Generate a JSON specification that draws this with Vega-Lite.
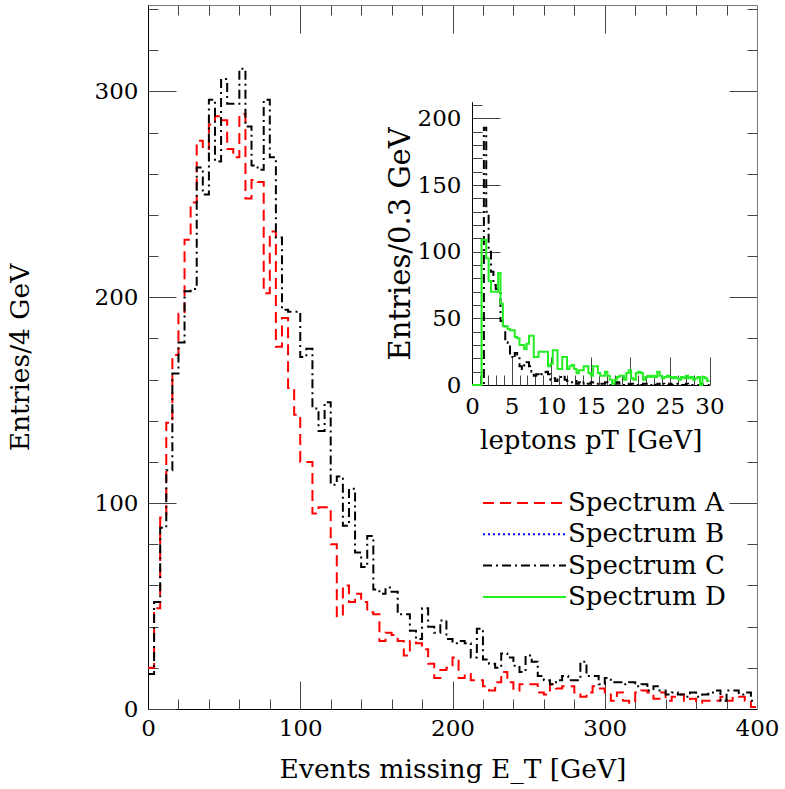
{
 "$schema": "https://vega.github.io/schema/vega-lite/v6.json",
 "width": 609, "height": 704,
 "autosize": {"type": "none"},
 "padding": {"left": 148, "top": 5, "right": 28, "bottom": 80},
 "background": "white",
 "datasets": {
  "main": [
   {"et":0,"Spectrum A":20,"Spectrum C":17},{"et":4,"Spectrum A":49,"Spectrum C":52},{"et":8,"Spectrum A":93,"Spectrum C":88},{"et":12,"Spectrum A":139,"Spectrum C":116},{"et":16,"Spectrum A":172,"Spectrum C":163},
   {"et":20,"Spectrum A":192,"Spectrum C":178},{"et":24,"Spectrum A":228,"Spectrum C":203},{"et":28,"Spectrum A":246,"Spectrum C":204},{"et":32,"Spectrum A":276,"Spectrum C":263},{"et":36,"Spectrum A":272,"Spectrum C":250},
   {"et":40,"Spectrum A":284,"Spectrum C":296},{"et":44,"Spectrum A":288,"Spectrum C":266},{"et":48,"Spectrum A":286,"Spectrum C":306},{"et":52,"Spectrum A":272,"Spectrum C":294},{"et":56,"Spectrum A":268,"Spectrum C":294},
   {"et":60,"Spectrum A":289,"Spectrum C":311},{"et":64,"Spectrum A":248,"Spectrum C":283},{"et":68,"Spectrum A":257,"Spectrum C":264},{"et":72,"Spectrum A":256,"Spectrum C":262},{"et":76,"Spectrum A":202,"Spectrum C":296},
   {"et":80,"Spectrum A":232,"Spectrum C":268},{"et":84,"Spectrum A":176,"Spectrum C":229},{"et":88,"Spectrum A":190,"Spectrum C":194},{"et":92,"Spectrum A":156,"Spectrum C":193},{"et":96,"Spectrum A":143,"Spectrum C":193},
   {"et":100,"Spectrum A":120,"Spectrum C":171},{"et":104,"Spectrum A":120,"Spectrum C":175},{"et":108,"Spectrum A":95,"Spectrum C":146},{"et":112,"Spectrum A":98,"Spectrum C":135},{"et":116,"Spectrum A":98,"Spectrum C":149},
   {"et":120,"Spectrum A":80,"Spectrum C":109},{"et":124,"Spectrum A":45,"Spectrum C":113},{"et":128,"Spectrum A":60,"Spectrum C":89},{"et":132,"Spectrum A":52,"Spectrum C":107},{"et":136,"Spectrum A":56,"Spectrum C":76},
   {"et":140,"Spectrum A":52,"Spectrum C":69},{"et":144,"Spectrum A":47,"Spectrum C":84},{"et":148,"Spectrum A":46,"Spectrum C":58},{"et":152,"Spectrum A":33,"Spectrum C":56},{"et":156,"Spectrum A":37,"Spectrum C":59},
   {"et":160,"Spectrum A":36,"Spectrum C":57},{"et":164,"Spectrum A":33,"Spectrum C":46},{"et":168,"Spectrum A":26,"Spectrum C":46},{"et":172,"Spectrum A":33,"Spectrum C":38},{"et":176,"Spectrum A":32,"Spectrum C":34},
   {"et":180,"Spectrum A":29,"Spectrum C":49},{"et":184,"Spectrum A":22,"Spectrum C":40},{"et":188,"Spectrum A":15,"Spectrum C":37},{"et":192,"Spectrum A":19,"Spectrum C":43},{"et":196,"Spectrum A":20,"Spectrum C":34},
   {"et":200,"Spectrum A":25,"Spectrum C":32},{"et":204,"Spectrum A":15,"Spectrum C":33},{"et":208,"Spectrum A":17,"Spectrum C":32},{"et":212,"Spectrum A":14,"Spectrum C":25},{"et":216,"Spectrum A":14,"Spectrum C":39},
   {"et":220,"Spectrum A":11,"Spectrum C":24},{"et":224,"Spectrum A":9,"Spectrum C":22},{"et":228,"Spectrum A":13,"Spectrum C":20},{"et":232,"Spectrum A":18,"Spectrum C":27},{"et":236,"Spectrum A":13,"Spectrum C":25},
   {"et":240,"Spectrum A":9,"Spectrum C":21},{"et":244,"Spectrum A":12,"Spectrum C":18},{"et":248,"Spectrum A":12,"Spectrum C":26},{"et":252,"Spectrum A":12,"Spectrum C":23},{"et":256,"Spectrum A":8,"Spectrum C":16},
   {"et":260,"Spectrum A":7,"Spectrum C":14},{"et":264,"Spectrum A":12,"Spectrum C":12},{"et":268,"Spectrum A":10,"Spectrum C":14},{"et":272,"Spectrum A":11,"Spectrum C":16},{"et":276,"Spectrum A":11,"Spectrum C":14},
   {"et":280,"Spectrum A":8,"Spectrum C":14},{"et":284,"Spectrum A":6,"Spectrum C":23},{"et":288,"Spectrum A":8,"Spectrum C":16},{"et":292,"Spectrum A":11,"Spectrum C":16},{"et":296,"Spectrum A":10,"Spectrum C":12},
   {"et":300,"Spectrum A":8,"Spectrum C":15},{"et":304,"Spectrum A":4,"Spectrum C":13},{"et":308,"Spectrum A":8,"Spectrum C":13},{"et":312,"Spectrum A":4,"Spectrum C":12},{"et":316,"Spectrum A":3,"Spectrum C":13},
   {"et":320,"Spectrum A":8,"Spectrum C":11},{"et":324,"Spectrum A":9,"Spectrum C":12},{"et":328,"Spectrum A":8,"Spectrum C":9},{"et":332,"Spectrum A":5,"Spectrum C":11},{"et":336,"Spectrum A":8,"Spectrum C":9},
   {"et":340,"Spectrum A":4,"Spectrum C":7},{"et":344,"Spectrum A":6,"Spectrum C":8},{"et":348,"Spectrum A":7,"Spectrum C":7},{"et":352,"Spectrum A":4,"Spectrum C":6},{"et":356,"Spectrum A":5,"Spectrum C":8},
   {"et":360,"Spectrum A":3,"Spectrum C":6},{"et":364,"Spectrum A":4,"Spectrum C":7},{"et":368,"Spectrum A":4,"Spectrum C":8},{"et":372,"Spectrum A":4,"Spectrum C":9},{"et":376,"Spectrum A":6,"Spectrum C":4},
   {"et":380,"Spectrum A":4,"Spectrum C":9},{"et":384,"Spectrum A":6,"Spectrum C":9},{"et":388,"Spectrum A":6,"Spectrum C":7},{"et":392,"Spectrum A":4,"Spectrum C":8},{"et":396,"Spectrum A":1,"Spectrum C":4},
   {"et":400,"Spectrum A":1,"Spectrum C":4}
  ],
  "inset": [
   {"pt":0,"Spectrum C":0,"Spectrum D":0},{"pt":0.3,"Spectrum C":0,"Spectrum D":0},{"pt":0.6,"Spectrum C":0,"Spectrum D":0},{"pt":0.9,"Spectrum C":0,"Spectrum D":0},{"pt":1.2,"Spectrum C":0,"Spectrum D":109},
   {"pt":1.5,"Spectrum C":193,"Spectrum D":109},{"pt":1.8,"Spectrum C":130,"Spectrum D":95},{"pt":2.1,"Spectrum C":100,"Spectrum D":78},{"pt":2.4,"Spectrum C":85,"Spectrum D":70},{"pt":2.7,"Spectrum C":75,"Spectrum D":70},
   {"pt":3,"Spectrum C":72,"Spectrum D":70},{"pt":3.3,"Spectrum C":71,"Spectrum D":84},{"pt":3.6,"Spectrum C":48,"Spectrum D":61},{"pt":3.9,"Spectrum C":45,"Spectrum D":44},{"pt":4.2,"Spectrum C":32,"Spectrum D":44},
   {"pt":4.5,"Spectrum C":30,"Spectrum D":42},{"pt":4.8,"Spectrum C":22,"Spectrum D":41},{"pt":5.1,"Spectrum C":20,"Spectrum D":41},{"pt":5.4,"Spectrum C":24,"Spectrum D":36},{"pt":5.7,"Spectrum C":20,"Spectrum D":35},
   {"pt":6,"Spectrum C":14,"Spectrum D":30},{"pt":6.3,"Spectrum C":12,"Spectrum D":30},{"pt":6.6,"Spectrum C":15,"Spectrum D":27},{"pt":6.9,"Spectrum C":17,"Spectrum D":31},{"pt":7.2,"Spectrum C":14,"Spectrum D":37},
   {"pt":7.5,"Spectrum C":10,"Spectrum D":37},{"pt":7.8,"Spectrum C":7,"Spectrum D":21},{"pt":8.1,"Spectrum C":8,"Spectrum D":21},{"pt":8.4,"Spectrum C":7,"Spectrum D":25},{"pt":8.7,"Spectrum C":8,"Spectrum D":25},
   {"pt":9,"Spectrum C":8,"Spectrum D":25},{"pt":9.3,"Spectrum C":10,"Spectrum D":25},{"pt":9.6,"Spectrum C":8,"Spectrum D":14},{"pt":9.9,"Spectrum C":4,"Spectrum D":16},{"pt":10.2,"Spectrum C":5,"Spectrum D":26},
   {"pt":10.5,"Spectrum C":3,"Spectrum D":26},{"pt":10.8,"Spectrum C":5,"Spectrum D":12},{"pt":11.1,"Spectrum C":6,"Spectrum D":12},{"pt":11.4,"Spectrum C":7,"Spectrum D":21},{"pt":11.7,"Spectrum C":4,"Spectrum D":21},
   {"pt":12,"Spectrum C":3,"Spectrum D":12},{"pt":12.3,"Spectrum C":2,"Spectrum D":14},{"pt":12.6,"Spectrum C":2,"Spectrum D":15},{"pt":12.9,"Spectrum C":3,"Spectrum D":12},{"pt":13.2,"Spectrum C":1,"Spectrum D":9},
   {"pt":13.5,"Spectrum C":2,"Spectrum D":11},{"pt":13.8,"Spectrum C":1,"Spectrum D":11},{"pt":14.1,"Spectrum C":2,"Spectrum D":14},{"pt":14.4,"Spectrum C":1,"Spectrum D":14},{"pt":14.7,"Spectrum C":1,"Spectrum D":9},
   {"pt":15,"Spectrum C":2,"Spectrum D":7},{"pt":15.3,"Spectrum C":1,"Spectrum D":14},{"pt":15.6,"Spectrum C":1,"Spectrum D":14},{"pt":15.9,"Spectrum C":0,"Spectrum D":9},{"pt":16.2,"Spectrum C":1,"Spectrum D":7},
   {"pt":16.5,"Spectrum C":1,"Spectrum D":7},{"pt":16.8,"Spectrum C":2,"Spectrum D":10},{"pt":17.1,"Spectrum C":1,"Spectrum D":7},{"pt":17.4,"Spectrum C":0,"Spectrum D":4},{"pt":17.7,"Spectrum C":1,"Spectrum D":1},
   {"pt":18,"Spectrum C":1,"Spectrum D":4},{"pt":18.3,"Spectrum C":2,"Spectrum D":6},{"pt":18.6,"Spectrum C":1,"Spectrum D":7},{"pt":18.9,"Spectrum C":1,"Spectrum D":7},{"pt":19.2,"Spectrum C":0,"Spectrum D":4},
   {"pt":19.5,"Spectrum C":1,"Spectrum D":9},{"pt":19.8,"Spectrum C":0,"Spectrum D":11},{"pt":20.1,"Spectrum C":1,"Spectrum D":5},{"pt":20.4,"Spectrum C":1,"Spectrum D":4},{"pt":20.7,"Spectrum C":0,"Spectrum D":9},
   {"pt":21,"Spectrum C":1,"Spectrum D":10},{"pt":21.3,"Spectrum C":0,"Spectrum D":9},{"pt":21.6,"Spectrum C":1,"Spectrum D":4},{"pt":21.9,"Spectrum C":1,"Spectrum D":6},{"pt":22.2,"Spectrum C":0,"Spectrum D":7},
   {"pt":22.5,"Spectrum C":0,"Spectrum D":6},{"pt":22.8,"Spectrum C":1,"Spectrum D":7},{"pt":23.1,"Spectrum C":0,"Spectrum D":6},{"pt":23.4,"Spectrum C":1,"Spectrum D":10},{"pt":23.7,"Spectrum C":0,"Spectrum D":7},
   {"pt":24,"Spectrum C":1,"Spectrum D":5},{"pt":24.3,"Spectrum C":0,"Spectrum D":6},{"pt":24.6,"Spectrum C":0,"Spectrum D":7},{"pt":24.9,"Spectrum C":1,"Spectrum D":6},{"pt":25.2,"Spectrum C":0,"Spectrum D":5},
   {"pt":25.5,"Spectrum C":0,"Spectrum D":6},{"pt":25.8,"Spectrum C":1,"Spectrum D":5},{"pt":26.1,"Spectrum C":0,"Spectrum D":4},{"pt":26.4,"Spectrum C":0,"Spectrum D":6},{"pt":26.7,"Spectrum C":0,"Spectrum D":5},
   {"pt":27,"Spectrum C":1,"Spectrum D":7},{"pt":27.3,"Spectrum C":0,"Spectrum D":5},{"pt":27.6,"Spectrum C":0,"Spectrum D":6},{"pt":27.9,"Spectrum C":0,"Spectrum D":4},{"pt":28.2,"Spectrum C":0,"Spectrum D":5},
   {"pt":28.5,"Spectrum C":0,"Spectrum D":6},{"pt":28.8,"Spectrum C":1,"Spectrum D":0},{"pt":29.1,"Spectrum C":0,"Spectrum D":6},{"pt":29.4,"Spectrum C":0,"Spectrum D":5},{"pt":29.7,"Spectrum C":0,"Spectrum D":3},
   {"pt":30,"Spectrum C":0,"Spectrum D":3}
  ]
 },
 "config": {
  "view": {"stroke": null},
  "axis": {"grid": false, "labelFont": "DejaVu Serif", "titleFont": "DejaVu Serif", "labelFontSize": 23, "titleFontSize": 26.5, "titleFontWeight": "normal", "labelColor": "#000", "titleColor": "#000", "tickColor": "#444", "domainColor": "#000", "tickWidth": 1, "domainWidth": 1, "labelFlush": false, "labelOverlap": false}
 },
 "resolve": {"scale": {"x": "independent", "y": "independent"}},
 "layer": [
  {
   "data": {"name": "main"},
   "transform": [{"fold": ["Spectrum A", "Spectrum C"], "as": ["s", "n"]}],
   "resolve": {"axis": {"x": "independent", "y": "independent"}},
   "layer": [
    {
     "mark": {"type": "line", "interpolate": "step-after", "strokeWidth": 2},
     "encoding": {
      "x": {"field": "et", "type": "quantitative", "scale": {"domain": [0, 400], "nice": false, "zero": false},
            "axis": {"orient": "bottom", "values": [0, 100, 200, 300, 400], "ticks": false, "labelPadding": 8, "title": "Events missing E_T [GeV]", "titlePadding": 16}},
      "y": {"field": "n", "type": "quantitative", "scale": {"domain": [0, 342], "nice": false},
            "axis": {"orient": "left", "values": [0, 100, 200, 300], "ticks": false, "labelPadding": 10, "title": "Entries/4 GeV", "titlePadding": 60}},
      "color": {"field": "s", "type": "nominal",
                "scale": {"domain": ["Spectrum A", "Spectrum B", "Spectrum C", "Spectrum D"], "range": ["#ff0000", "#0000ff", "#000000", "#22ee22"]},
                "legend": {"orient": "none", "legendX": 334, "legendY": 483, "title": null, "symbolType": "stroke", "symbolSize": 6889, "symbolStrokeWidth": 2, "clipHeight": 30, "rowPadding": 1.3, "labelFont": "DejaVu Serif", "labelFontSize": 26, "labelColor": "#000", "labelOffset": 1, "padding": 0, "labelLimit": 300}},
      "strokeDash": {"field": "s", "type": "nominal",
                "scale": {"domain": ["Spectrum A", "Spectrum B", "Spectrum C", "Spectrum D"], "range": [[11, 6], [2, 3], [9, 4, 2, 4], [1, 0]]},
                "legend": {"orient": "none", "legendX": 334, "legendY": 483, "title": null, "symbolType": "stroke", "symbolSize": 6889, "symbolStrokeWidth": 2, "clipHeight": 30, "rowPadding": 1.3, "labelFont": "DejaVu Serif", "labelFontSize": 26, "labelColor": "#000", "labelOffset": 1, "padding": 0, "labelLimit": 300}}
     }
    },
    {
     "mark": {"type": "point", "opacity": 0},
     "encoding": {
      "x": {"field": "et", "type": "quantitative", "axis": {"orient": "bottom", "values": [0, 100, 200, 300, 400], "tickSize": -28, "labels": false, "domain": false, "title": null}},
      "y": {"field": "n", "type": "quantitative", "axis": {"orient": "left", "values": [0, 100, 200, 300], "tickSize": -28, "labels": false, "domain": false, "title": null}}
     }
    },
    {
     "mark": {"type": "point", "opacity": 0},
     "encoding": {
      "x": {"field": "et", "type": "quantitative", "axis": {"orient": "bottom", "values": [20, 40, 60, 80, 120, 140, 160, 180, 220, 240, 260, 280, 320, 340, 360, 380], "tickSize": -10, "labels": false, "domain": false, "title": null}},
      "y": {"field": "n", "type": "quantitative", "axis": {"orient": "left", "values": [20, 40, 60, 80, 120, 140, 160, 180, 220, 240, 260, 280, 320, 340], "tickSize": -10, "labels": false, "domain": false, "title": null}}
     }
    },
    {
     "mark": {"type": "point", "opacity": 0},
     "encoding": {
      "x": {"field": "et", "type": "quantitative", "axis": {"orient": "top", "values": [100, 200, 300], "tickSize": -28, "labels": false, "domain": true, "domainColor": "#777", "title": null}},
      "y": {"field": "n", "type": "quantitative", "axis": {"orient": "right", "values": [100, 200, 300], "tickSize": -28, "labels": false, "domain": true, "domainColor": "#777", "title": null}}
     }
    },
    {
     "mark": {"type": "point", "opacity": 0},
     "encoding": {
      "x": {"field": "et", "type": "quantitative", "axis": {"orient": "top", "values": [20, 40, 60, 80, 120, 140, 160, 180, 220, 240, 260, 280, 320, 340, 360, 380], "tickSize": -10, "labels": false, "domain": false, "title": null}},
      "y": {"field": "n", "type": "quantitative", "axis": {"orient": "right", "values": [20, 40, 60, 80, 120, 140, 160, 180, 220, 240, 260, 280, 320, 340], "tickSize": -10, "labels": false, "domain": false, "title": null}}
     }
    }
   ]
  },
  {
   "data": {"name": "inset"},
   "transform": [{"fold": ["Spectrum C", "Spectrum D"], "as": ["s", "m"]}],
   "resolve": {"axis": {"x": "independent", "y": "independent"}},
   "layer": [
    {
     "mark": {"type": "line", "interpolate": "step-after", "strokeWidth": 2},
     "encoding": {
      "x": {"field": "pt", "type": "quantitative", "scale": {"domain": [0, 30], "range": [324, 561.5], "nice": false, "zero": false},
            "axis": {"orient": "bottom", "offset": -324, "values": [0, 5, 10, 15, 20, 25, 30], "ticks": false, "labelPadding": 10, "title": "leptons pT [GeV]", "titlePadding": 9, "titleFontSize": 26}},
      "y": {"field": "m", "type": "quantitative", "scale": {"domain": [0, 212.5], "range": [380, 96.7], "nice": false},
            "axis": {"orient": "left", "offset": -324, "values": [0, 50, 100, 150, 200], "ticks": false, "labelPadding": 11, "title": "Entries/0.3 GeV", "titlePadding": 2, "titleFontSize": 29}},
      "color": {"field": "s", "type": "nominal", "scale": {"domain": ["Spectrum A", "Spectrum B", "Spectrum C", "Spectrum D"], "range": ["#ff0000", "#0000ff", "#000000", "#22ee22"]}, "legend": null},
      "strokeDash": {"field": "s", "type": "nominal", "scale": {"domain": ["Spectrum A", "Spectrum B", "Spectrum C", "Spectrum D"], "range": [[11, 6], [2, 3], [9, 4, 2, 4], [1, 0]]}, "legend": null}
     }
    },
    {
     "mark": {"type": "point", "opacity": 0},
     "encoding": {
      "x": {"field": "pt", "type": "quantitative", "axis": {"orient": "bottom", "offset": -324, "values": [5, 10, 15, 20, 25, 30], "tickSize": -28, "labels": false, "domain": false, "title": null}},
      "y": {"field": "m", "type": "quantitative", "axis": {"orient": "left", "offset": -324, "values": [50, 100, 150, 200], "tickSize": -28, "labels": false, "domain": false, "title": null}}
     }
    },
    {
     "mark": {"type": "point", "opacity": 0},
     "encoding": {
      "x": {"field": "pt", "type": "quantitative", "axis": {"orient": "bottom", "offset": -324, "values": [1, 2, 3, 4, 6, 7, 8, 9, 11, 12, 13, 14, 16, 17, 18, 19, 21, 22, 23, 24, 26, 27, 28, 29], "tickSize": -10, "labels": false, "domain": false, "title": null}},
      "y": {"field": "m", "type": "quantitative", "axis": {"orient": "left", "offset": -324, "values": [10, 20, 30, 40, 60, 70, 80, 90, 110, 120, 130, 140, 160, 170, 180, 190, 210], "tickSize": -10, "labels": false, "domain": false, "title": null}}
     }
    }
   ]
  }
 ]
}
